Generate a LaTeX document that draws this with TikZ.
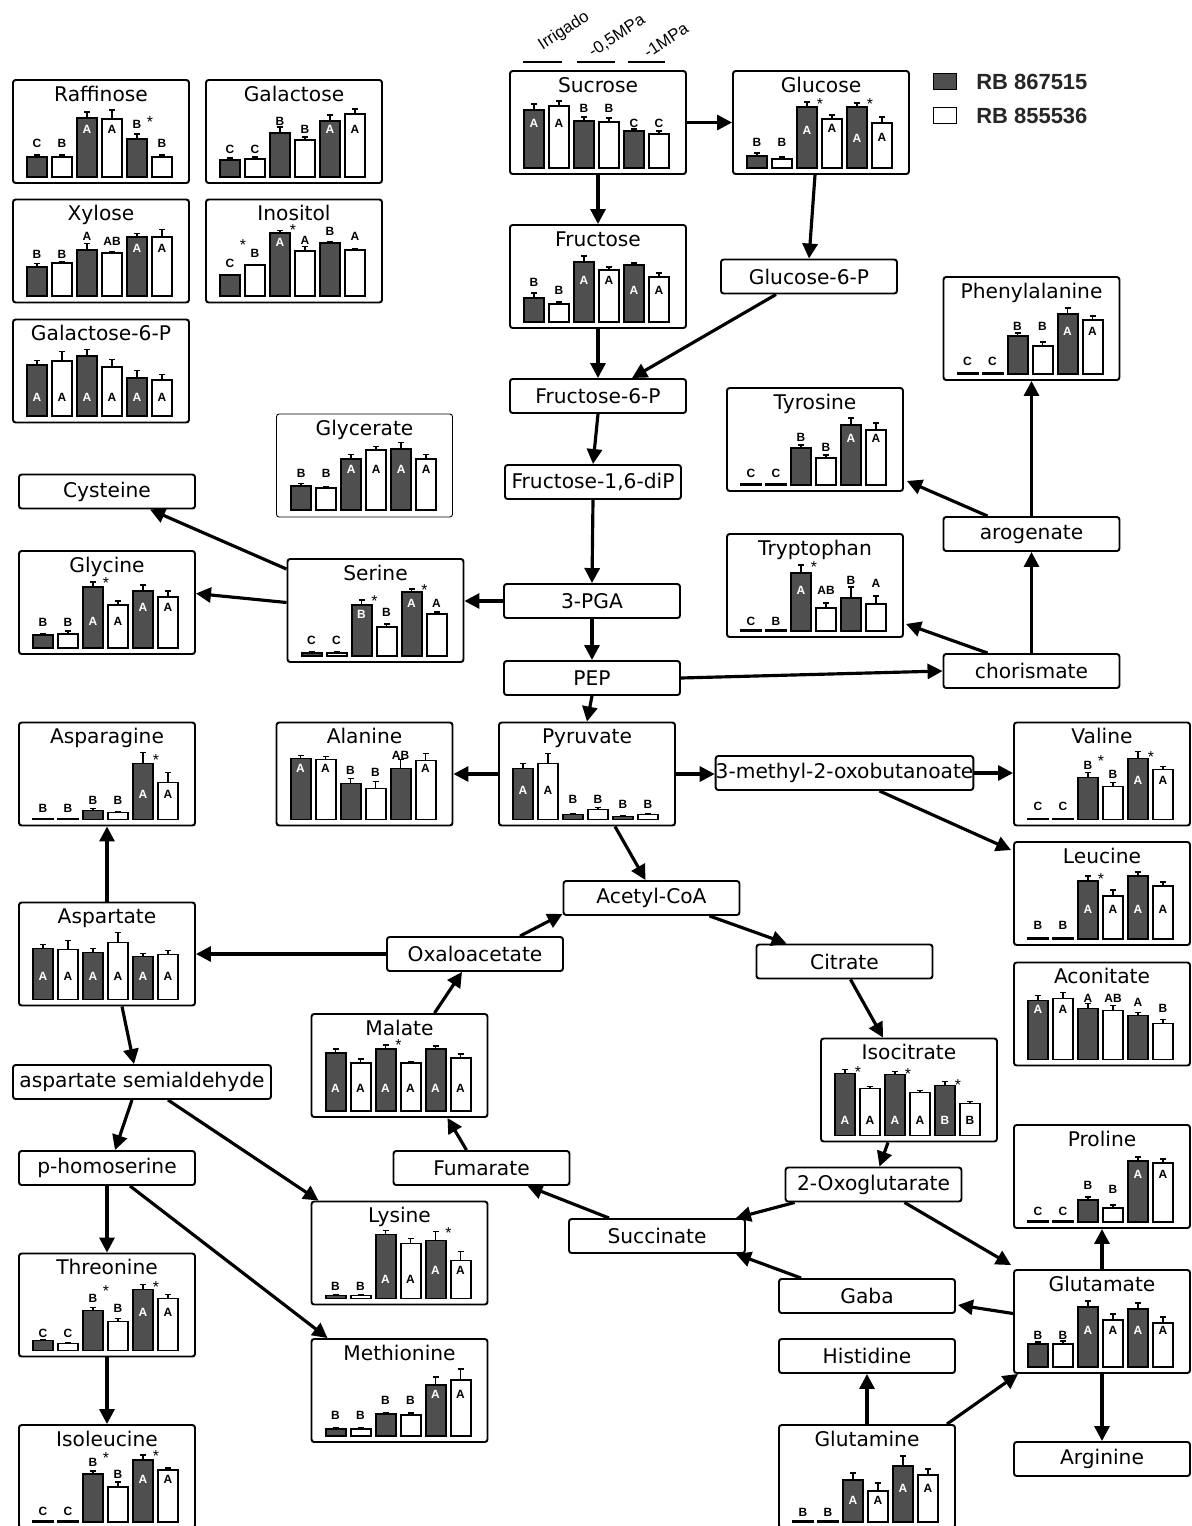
\documentclass[tikz,border=0pt]{standalone}
\usepackage{fontspec}
\setmainfont{DejaVu Sans}
\newfontfamily\arialfont{Liberation Sans}
\usetikzlibrary{arrows.meta,calc}

\definecolor{barfill}{HTML}{4F4F4F}

\tikzset{
	box/.style={draw, line width=1.1pt, rounded corners=1.5pt, minimum width=3.52cm, minimum height=0.68cm, inner sep=0pt, font=\fontsize{11.5}{13}\selectfont},
	chart/.style={draw, line width=1.1pt, rounded corners=1.5pt, minimum width=3.52cm, minimum height=2.06cm, inner sep=0pt},
	thinchart/.style={chart, line width=0.5pt},
	ttl/.style={anchor=base, inner sep=0pt, font=\fontsize{11.5}{13}\selectfont},
	bar/.style={line width=1.1pt},
	ebar/.style={line width=1pt},
	blab/.style={inner sep=0pt, font=\arialfont\bfseries\fontsize{6.8}{7}\selectfont},
	sig/.style={inner sep=0pt, font=\arialfont\fontsize{9}{9}\selectfont},
	hdr/.style={inner sep=0pt, rotate=33, font=\arialfont\fontsize{9.5}{10}\selectfont},
	flow/.style={line width=1.8pt, -{Triangle[length=0.3cm,width=0.3cm]}},
}

% six bars: height/error/letter/letter height/star height
\newcommand{\barset}[2]{%
	\begin{scope}[shift={(#1.south west)}]
	\foreach \h/\e/\lab/\ly/\st [count=\i from 0] in {#2} {
		\pgfmathsetmacro{\xa}{15+25*\i}
		\pgfmathsetmacro{\xc}{\xa+10}
		\pgfmathsetmacro{\yt}{-7-\h}
		\pgfmathsetmacro{\ye}{-7-\h-\e}
		\pgfmathtruncatemacro{\inn}{\ly<\h}
		\ifodd\i\relax
			\def\bfill{white}\def\lcol{black}
		\else
			\def\bfill{barfill}
			\ifnum\inn=1\relax \def\lcol{white}\else \def\lcol{black}\fi
		\fi
		\draw[ebar] (\xc,\yt) -- (\xc,\ye);
		\draw[ebar] (\xc-3,\ye) -- (\xc+3,\ye);
		\draw[bar, fill=\bfill] (\xa,-7) rectangle (\xa+20,\yt);
		\node[blab, text=\lcol] (#1l\i) at (\xc,-7-\ly) {\lab};
		\ifnum\st>0\relax
			\node[sig] (#1s\i) at (\xc+13,-4-\st) {*};
		\fi
	}
	\end{scope}}

\newcommand{\chart}[5][chart]{%
	\node[#1] (#2) at #3 {};
	\node[ttl] (#2t) at ($(#2.north)+(0,22)$) {#4};
	\barset{#2}{#5}}

\begin{document}
\begin{tikzpicture}[x=0.02cm, y=-0.02cm]
	\useasboundingbox (0,0) rectangle (1192,1526);
	\clip (0,0) rectangle (1192,1526);

	% column heads and legend
	\node[hdr] (irr) at (564,31) {Irrigado};
	\node[hdr] (mpa5) at (617,36) {-0,5MPa};
	\node[hdr] (mpa1) at (666,40) {-1MPa};
	\draw[line width=0.6pt] (523,62) -- (562,62);
	\draw[line width=0.6pt] (577,62) -- (615,62);
	\draw[line width=0.6pt] (628,62) -- (665,62);
	\node[draw, fill=barfill, line width=0.4pt, minimum width=0.46cm, minimum height=0.32cm, inner sep=0pt] (k1) at (944.5,81) {};
	\node[draw, fill=white, line width=0.4pt, minimum width=0.46cm, minimum height=0.32cm, inner sep=0pt] (k2) at (944.5,115) {};
	\node[anchor=west, inner sep=0pt, text=black!85, font=\arialfont\bfseries\fontsize{12.5}{14}\selectfont] (k1t) at (976,82) {RB 867515};
	\node[anchor=west, inner sep=0pt, text=black!85, font=\arialfont\bfseries\fontsize{12.5}{14}\selectfont] (k2t) at (976,116) {RB 855536};

	% sugars
	\chart{raff}{(101,131.5)}{Raffinose}{20/2/C/34/0, 20/2/B/34/0, 59/6/A/48/0, 58/9/A/48/0, 38/5/B/53/58, 20/2/B/34/0}
	\chart{galac}{(294,131.5)}{Galactose}{17/2/C/28/0, 18/2/C/28/0, 44/6/B/56/0, 37/3/B/48/0, 56/6/A/48/0, 63/5/A/48/0}
	\chart{xyl}{(101,251)}{Xylose}{29/4/B/42/0, 33/2/B/42/0, 46/7/A/60/0, 43/2/AB/55/0, 59/4/A/48/0, 59/8/A/48/0}
	\chart{inos}{(294,251)}{Inositol}{21/1/C/33/54, 31/1/B/43/0, 63/3/A/54/69, 45/5/A/56/0, 53/2/B/65/0, 46/2/A/60/0}
	\chart{galp}{(101,371)}{Galactose-6-P}{51/5/A/19/0, 55/10/A/19/0, 60/7/A/19/0, 49/8/A/19/0, 38/8/A/19/0, 36/6/A/19/0}
	\chart{sucr}{(598,122.5)}{Sucrose}{58/6/A/45/0, 62/5/A/45/0, 47/4/B/60/0, 46/4/B/60/0, 37/2/C/45/0, 34/3/C/45/0}
	\chart{gluc}{(821,122.5)}{Glucose}{12/3/B/26/0, 9/2/B/26/0, 61/5/A/38/67, 49/4/A/40/0, 61/4/A/30/67, 45/6/A/31/0}
	\chart{fruc}{(598,276.5)}{Fructose}{24/5/B/40/0, 18/2/B/32/0, 60/6/A/42/0, 52/3/A/42/0, 57/2/A/32/0, 45/4/A/32/0}
	\node[box] (g6p) at (809,276.5) {Glucose-6-P};
	\node[box] (f6p) at (598,396) {Fructose-6-P};
	\node[box] (f16p) at (593,482) {Fructose-1,6-diP};
	\node[box] (pga) at (592,601) {3-PGA};
	\node[box] (pep) at (592,678) {PEP};

	% aromatic and serine branch
	\chart{phe}{(1031.5,328.5)}{Phenylalanine}{1/0/C/13/0, 1/0/C/13/0, 38/3/B/48/0, 28/4/B/48/0, 60/6/A/43/0, 54/4/A/43/0}
	\chart{tyr}{(815,439.5)}{Tyrosine}{1/0/C/12/0, 1/0/C/12/0, 37/3/B/48/0, 27/3/B/38/0, 60/7/A/47/0, 55/7/A/47/0}
	\chart{trp}{(815,585.5)}{Tryptophan}{1/0/C/10/0, 1/0/B/10/0, 58/8/A/41/67, 23/5/AB/41/0, 33/11/B/51/0, 27/8/A/48/0}
	\node[box] (arog) at (1031.5,534) {arogenate};
	\node[box] (chor) at (1031.5,671) {chorismate};
	\chart[thinchart]{glyc}{(364.5,465.5)}{Glycerate}{24/3/B/37/0, 22/2/B/37/0, 51/5/A/41/0, 60/4/A/41/0, 61/7/A/41/0, 51/5/A/41/0}
	\node[box] (cys) at (107,491.5) {Cysteine};
	\chart{gly}{(107,602.5)}{Glycine}{13/1/B/26/0, 14/3/B/26/0, 61/5/A/27/68, 43/4/A/27/0, 57/6/A/41/0, 51/6/A/41/0}
	\chart{ser}{(375.5,610.5)}{Serine}{3/1/C/16/0, 3/1/C/16/0, 51/5/B/42/58, 29/3/B/44/0, 64/3/A/53/69, 42/2/A/53/0}

	% pyruvate branch
	\chart{asn}{(107,774)}{Asparagine}{1/0/B/11/0, 1/0/B/11/0, 9/2/B/19/0, 7/1/B/19/0, 56/11/A/25/62, 37/10/A/25/0}
	\chart{ala}{(364.5,774)}{Alanine}{61/3/A/51/0, 60/3/A/51/0, 36/5/B/49/0, 31/7/B/47/0, 51/9/AB/64/0, 59/7/A/51/0}
	\chart{pyr}{(587,774)}{Pyruvate}{51/5/A/29/0, 56/10/A/29/0, 5/1/B/20/0, 10/2/B/20/0, 3/1/B/15/0, 5/1/B/15/0}
	\node[box, minimum width=5.14cm] (mob) at (844.5,773) {3-methyl-2-oxobutanoate};
	\chart{val}{(1102,774)}{Valine}{1/0/C/13/0, 1/0/C/13/0, 42/5/B/54/61, 33/4/B/45/0, 61/7/A/39/65, 50/3/A/39/0}
	\chart{leu}{(1102,893.5)}{Leucine}{1/0/B/14/0, 1/0/B/14/0, 58/5/A/30/63, 43/6/A/30/0, 63/4/A/30/0, 53/4/A/30/0}
	\node[box] (acoa) at (651.5,898) {Acetyl-CoA};

	% TCA cycle
	\chart{asp}{(107,954)}{Aspartate}{51/4/A/23/0, 50/9/A/23/0, 47/4/A/23/0, 57/10/A/23/0, 43/3/A/23/0, 45/4/A/23/0}
	\node[box] (oaa) at (475,954) {Oxaloacetate};
	\node[box] (cit) at (844.5,961.5) {Citrate};
	\chart{acon}{(1102,1014)}{Aconitate}{59/5/A/50/0, 61/6/A/50/0, 51/5/A/61/0, 49/5/AB/61/0, 44/3/A/57/0, 36/4/B/51/0}
	\chart{mal}{(399.5,1065.5)}{Malate}{58/4/A/23/0, 48/4/A/23/0, 62/4/A/23/69, 48/1/A/23/0, 62/3/A/23/0, 53/4/A/23/0}
	\chart{isoc}{(909,1090)}{Isocitrate}{62/4/A/15/66, 47/2/A/15/0, 61/3/A/15/64, 43/2/A/15/0, 50/4/B/15/53, 32/2/B/15/0}
	\node[box, minimum width=5.16cm] (asa) at (142,1082) {aspartate semialdehyde};
	\chart{pro}{(1102,1176.5)}{Proline}{1/0/C/11/0, 1/0/C/11/0, 22/3/B/37/0, 14/3/B/33/0, 61/4/A/48/0, 59/4/A/48/0}
	\node[box] (phs) at (107,1168) {p-homoserine};
	\node[box] (fum) at (481.5,1168) {Fumarate};
	\node[box] (oxg) at (873.5,1184.5) {2-Oxoglutarate};
	\node[box] (succ) at (657,1236) {Succinate};
	\chart{lys}{(399.5,1253)}{Lysine}{3/1/B/12/0, 3/1/B/12/0, 64/4/A/19/0, 55/5/A/19/0, 58/9/A/28/68, 38/9/A/28/0}
	\chart{thr}{(107,1305)}{Threonine}{10/1/C/17/0, 7/1/C/17/0, 40/3/B/52/62, 29/3/B/42/0, 61/5/A/38/66, 52/4/A/38/0}
	\chart{glu}{(1102,1321.5)}{Glutamate}{23/2/B/32/0, 23/3/B/32/0, 60/6/A/37/0, 47/6/A/37/0, 58/6/A/37/0, 44/6/A/37/0}
	\node[box] (gaba) at (867,1296) {Gaba};
	\node[box] (his) at (867,1356) {Histidine};
	\chart{met}{(399.5,1390.5)}{Methionine}{7/1/B/21/0, 7/1/B/21/0, 22/1/B/36/0, 21/2/B/36/0, 51/8/A/42/0, 56/11/A/42/0}
	\node[box] (arg) at (1102,1459) {Arginine};
	\chart{ile}{(107,1476.5)}{Isoleucine}{1/0/C/11/0, 1/0/C/11/0, 48/3/B/60/67, 35/5/B/48/0, 62/5/A/43/69, 52/2/A/43/0}
	\chart{gln}{(867,1476.5)}{Glutamine}{1/0/B/10/0, 1/0/B/10/0, 42/7/A/22/0, 31/8/A/22/0, 56/10/A/34/0, 47/6/A/34/0}

	% Draw the pathway arrows
	\draw[flow] (sucr) -- (gluc);
	\draw[flow] (sucr.south) -- (fruc.north);
	\draw[flow] ($(gluc.south)+(-6,0)$) -- (g6p.north);
	\draw[flow] ($(g6p.south)+(-33,0)$) -- ($(f6p.north)+(34,0)$);
	\draw[flow] (fruc.south) -- (f6p.north);
	\draw[flow] (f6p.south) -- (f16p.north);
	\draw[flow] (f16p.south) -- (pga.north);
	\draw[flow] (pga.west) -- (pga.west -| ser.east);
	\draw[flow] (pga.south) -- (pep.north);
	\draw[flow] ($(ser.west)+(0,-8)$) -- ($(gly.east)+(0,-9)$);
	\draw[flow] ($(ser.north west)+(0,11)$) -- ($(cys.south)+(43,0)$);
	\draw[flow] (pep.east) -- (chor.west);
	\draw[flow] ($(chor.north west)+(45,0)$) -- ($(trp.south east)+(2,-14)$);
	\draw[flow] (chor.north) -- (arog.south);
	\draw[flow] ($(arog.north west)+(45,0)$) -- ($(tyr.south east)+(3,-11)$);
	\draw[flow] (arog.north) -- (phe.south);
	\draw[flow] (pep.south) -- (pyr.north);
	\draw[flow] (pyr.west) -- (ala.east);
	\draw[flow] (pyr.east) -- (pyr.east -| mob.west);
	\draw[flow] (mob.east) -- (mob.east -| val.west);
	\draw[flow] ($(mob.south)+(35,0)$) -- ($(leu.north west)+(-2,9)$);
	\draw[flow] ($(pyr.south)+(28,0)$) -- ($(acoa.north)+(-6,0)$);
	\draw[flow] ($(oaa.north)+(45,0)$) -- ($(acoa.south west)+(0,-2)$);
	\draw[flow] ($(acoa.south)+(58,0)$) -- ($(cit.north west)+(31,0)$);
	\draw[flow] (oaa.west) -- (asp.east);
	\draw[flow] (asp.north) -- (asn.south);
	\draw[flow] ($(asp.south)+(15,0)$) -- ($(asa.north)+(-8,0)$);
	\draw[flow] ($(mal.north)+(35,0)$) -- ($(oaa.south)+(-13,0)$);
	\draw[flow] ($(fum.north)+(-15,0)$) -- ($(mal.south)+(48,0)$);
	\draw[flow] ($(cit.south)+(6,0)$) -- ($(isoc.north)+(-26,0)$);
	\draw[flow] ($(isoc.south)+(-21,0)$) -- ($(oxg.north)+(6,0)$);
	\draw[flow] ($(oxg.south west)+(10,0)$) -- ($(succ.north east)+(-10,0)$);
	\draw[flow] ($(oxg.south)+(31,0)$) -- ($(glu.north west)+(-2,-4)$);
	\draw[flow] ($(succ.north west)+(41,0)$) -- ($(fum.south)+(46,0)$);
	\draw[flow] ($(gaba.north west)+(23,0)$) -- ($(succ.south east)+(-10,0)$);
	\draw[flow] ($(glu.west)+(0,-8)$) -- ($(gaba.east)+(2,9)$);
	\draw[flow] (glu.north) -- (pro.south);
	\draw[flow] (glu.south) -- (arg.north);
	\draw[flow] (gln.north) -- (his.south);
	\draw[flow] ($(gln.north east)+(-9,0)$) -- ($(glu.south west)+(5,0)$);
	\draw[flow] ($(asa.south)+(-10,0)$) -- ($(phs.north)+(8,0)$);
	\draw[flow] ($(asa.south)+(26,0)$) -- ($(lys.north west)+(8,0)$);
	\draw[flow] (phs.south) -- (thr.north);
	\draw[flow] ($(phs.south)+(23,0)$) -- ($(met.north west)+(17,0)$);
	\draw[flow] (thr.south) -- (ile.north);
\end{tikzpicture}
\end{document}
